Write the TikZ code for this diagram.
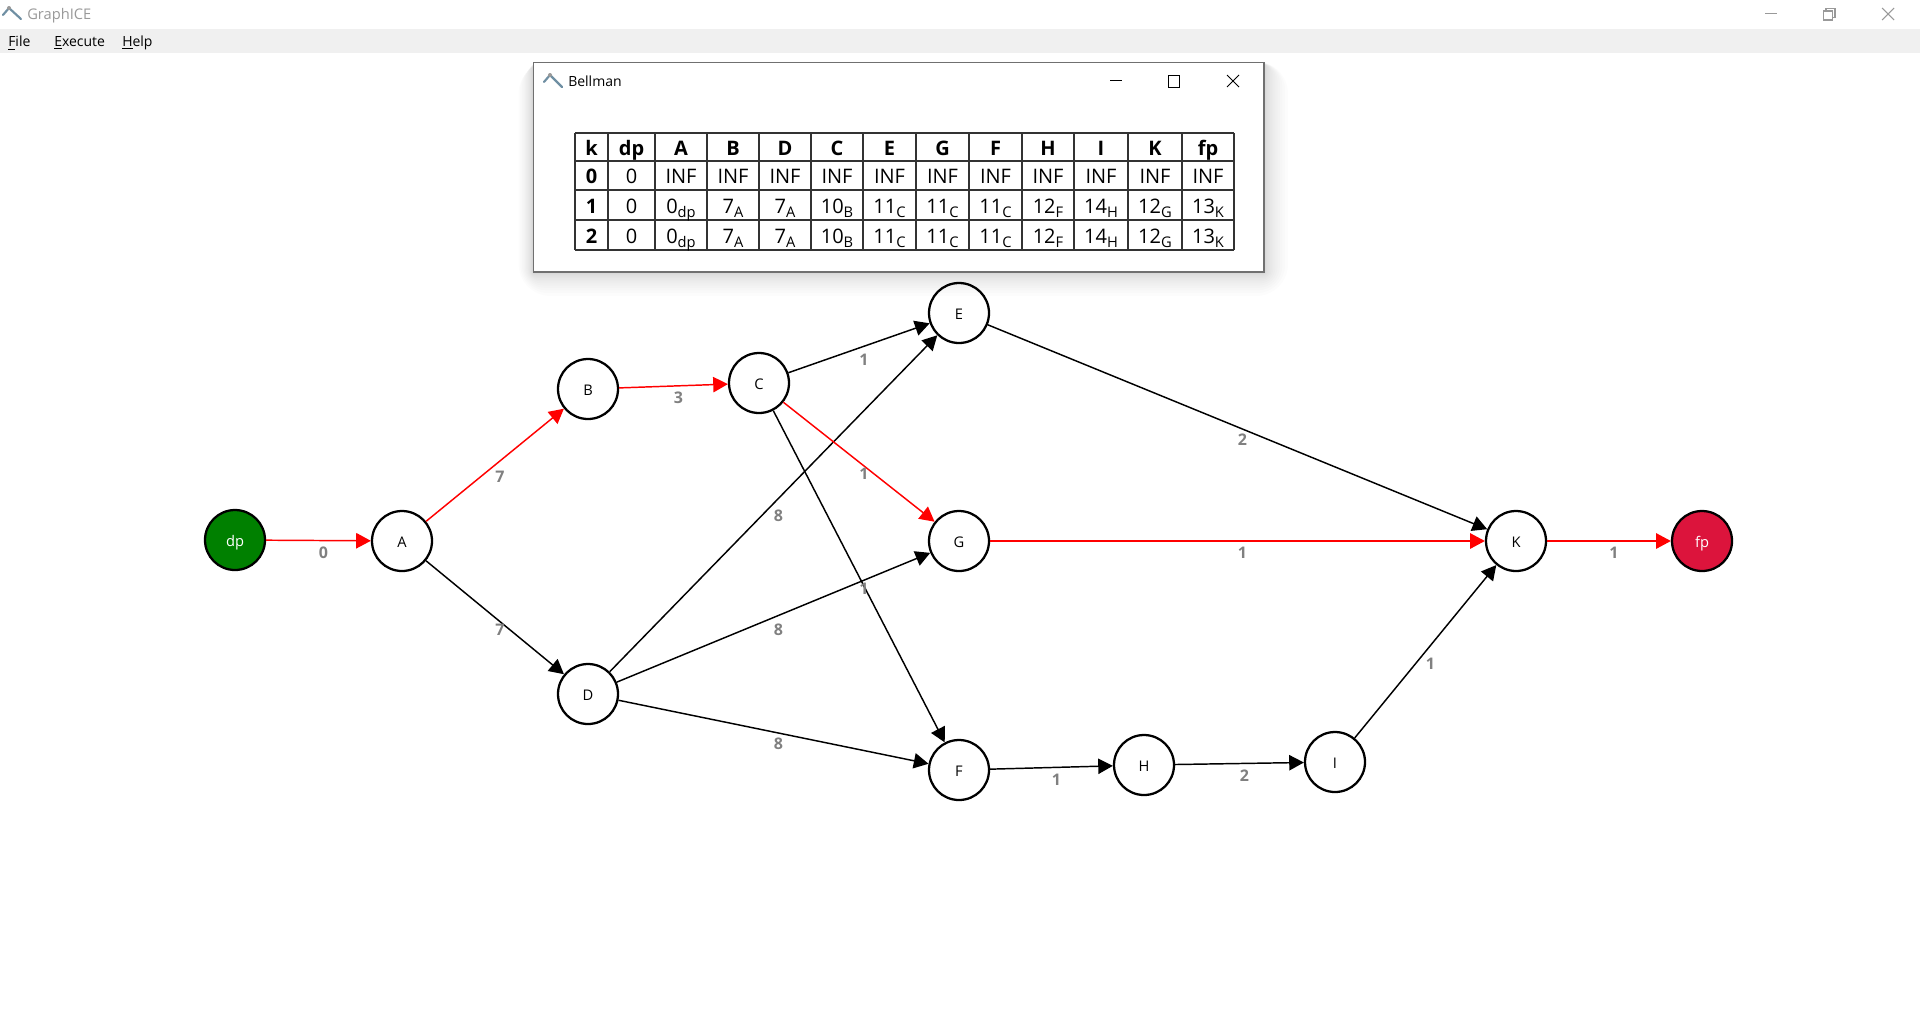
\documentclass[tikz,border=0pt]{standalone}
\usepackage{fontspec}
\setmainfont{Open Sans}
\usepackage{xcolor}
\usetikzlibrary{arrows.meta}
\definecolor{menubg}{HTML}{F0F0F0}
\definecolor{titlegray}{HTML}{999999}
\definecolor{winline}{HTML}{707070}
\definecolor{cellline}{HTML}{333333}
\definecolor{iconblue}{HTML}{6F8FA3}
\definecolor{weight}{HTML}{808080}
\definecolor{startgreen}{HTML}{008000}
\definecolor{endred}{HTML}{DC143C}
\newcommand{\low}[1]{\raisebox{-0.45ex}{\fontsize{11}{11}\selectfont #1}}
\tikzset{
  vertex/.style={circle, draw=black, fill=white, line width=1.7pt, minimum size=45pt, inner sep=0pt, text height=9pt, text depth=0pt, font=\fontsize{11}{13}\selectfont},
  edge/.style={draw=black, line width=1.1pt, -{Triangle[length=11pt,width=11.5pt]}},
  path/.style={edge, draw=red, -{Triangle[length=11pt,width=11.5pt,fill=red]}},
  wlab/.style={midway, xshift=3.75pt, yshift=-9.2pt, text=weight, inner sep=0pt, font=\fontsize{12}{14}\selectfont\bfseries},
  menu/.style={anchor=west, inner sep=0pt, font=\fontsize{10.5}{13}\selectfont},
  ctrl/.style={draw=titlegray, line width=0.8pt},
  wctrl/.style={draw=black, line width=0.75pt},
  icon/.style={draw=iconblue, line width=1.6pt, line cap=round},
  apex/.style={fill=titlegray},
  cell/.style={anchor=base, inner sep=0pt, font=\fontsize{15}{18}\selectfont},
  hcell/.style={cell, font=\fontsize{15}{18}\selectfont\bfseries},
  grid/.style={draw=cellline, line width=1.2pt},
}
\begin{document}
\begin{tikzpicture}[x=0.75pt,y=-0.75pt]
  \useasboundingbox (0,0) rectangle (1920,1029);
  \fill[white] (0,0) rectangle (1920,1029);

  % main window bar
  \fill[menubg] (0,29) rectangle (1920,53);
  \draw[icon] (3,15)--(9,8)--(21,19);
  \fill[apex] (9,8) circle (1.5pt);
  \node[anchor=west,inner sep=0pt,text=titlegray,font=\fontsize{11}{13}\selectfont] (title) at (27,15.5) {GraphICE};
  \node[menu] (mfile) at (8,43) {\underline{F}ile};
  \node[menu] (mexec) at (54,43) {\underline{E}xecute};
  \node[menu] (mhelp) at (122,43) {\underline{H}elp};
  \draw[ctrl] (1765,13.5)--(1777,13.5);
  \draw[ctrl] (1823.5,11)rectangle(1832.5,20) (1826,11)--(1826,8.5)--(1835,8.5)--(1835,17.5)--(1832.5,17.5);
  \draw[ctrl] (1882,8)--(1894,20) (1882,20)--(1894,8);

  % graph
  \node[vertex,fill=startgreen,text=white] (dp) at (235,540) {dp};
  \node[vertex] (A) at (402,541) {A};
  \node[vertex] (B) at (588,389) {B};
  \node[vertex] (D) at (588,694) {D};
  \node[vertex] (C) at (759,383) {C};
  \node[vertex] (E) at (959,313) {E};
  \node[vertex] (G) at (959,541) {G};
  \node[vertex] (F) at (959,770) {F};
  \node[vertex] (H) at (1144,765) {H};
  \node[vertex] (I) at (1335,762) {I};
  \node[vertex] (K) at (1516,541) {K};
  \node[vertex,fill=endred,text=white] (fp) at (1702,541) {fp};

  \draw[edge] (A)--(D) node[wlab] (w2) {7};
  \draw[edge] (C)--(E) node[wlab] (w4) {1};
  \draw[edge] (C)--(F) node[wlab] (w5) {1};
  \draw[edge] (D)--(E) node[wlab] (w6) {8};
  \draw[edge] (D)--(G) node[wlab] (w7) {8};
  \draw[edge] (D)--(F) node[wlab] (w8) {8};
  \draw[edge] (E)--(K) node[wlab] (w9) {2};
  \draw[edge] (F)--(H) node[wlab] (w10) {1};
  \draw[edge] (H)--(I) node[wlab] (w11) {2};
  \draw[edge] (I)--(K) node[wlab] (w12) {1};
  \draw[path] (dp)--(A) node[wlab] (w0) {0};
  \draw[path] (A)--(B) node[wlab] (w1) {7};
  \draw[path] (B)--(C) node[wlab] (w3) {3};
  \draw[path] (C)--(G) node[wlab] (w13) {1};
  \draw[path] (G)--(K) node[wlab] (w14) {1};
  \draw[path] (K)--(fp) node[wlab] (w15) {1};

  % Bellman window
  \foreach \i in {1,...,16}{
    \pgfmathsetmacro{\s}{24*(\i/16)^2}
    \fill[black,opacity=0.01,rounded corners=\s] ({533-0.6*\s},{64-0.1*\s}) rectangle ({1264+\s},{272+\s});
  }
  \draw[winline,fill=white,line width=0.9pt] (533.5,62.5) rectangle (1264,272);
  \draw[icon] (544,82)--(550,75)--(562,87);
  \fill[apex] (550,75) circle (1.5pt);
  \node[menu] (btitle) at (568,81.5) {Bellman};
  \draw[wctrl] (1110,80.5)--(1122,80.5);
  \draw[wctrl] (1168,75.5) rectangle (1179.5,87);
  \draw[wctrl] (1227,75)--(1239,87) (1227,87)--(1239,75);

  % table
  \foreach \lx in {575,608,655,707,759,811,863,916,969,1022,1074,1128,1182,1234}
    \draw[grid] (\lx,133)--(\lx,250);
  \foreach \ly in {133,161,190,220,250}
    \draw[grid] (575,\ly)--(1234,\ly);
  \node[hcell] (hk) at (591.5,155.5) {k};
  \node[hcell] (k0) at (591.5,183) {0};
  \node[hcell] (k1) at (591.5,213) {1};
  \node[hcell] (k2) at (591.5,243) {2};
  \foreach \cx/\col/\rz/\rv in {
    631.5/dp/0/0, 681/A/INF/0\low{dp}, 733/B/INF/7\low{A}, 785/D/INF/7\low{A},
    837/C/INF/10\low{B}, 889.5/E/INF/11\low{C}, 942.5/G/INF/11\low{C},
    995.5/F/INF/11\low{C}, 1048/H/INF/12\low{F}, 1101/I/INF/14\low{H},
    1155/K/INF/12\low{G}, 1208/fp/INF/13\low{K}}{
    \node[hcell] (h\col) at (\cx,155.5) {\col};
    \node[cell] (a\col) at (\cx,183) {\rz};
    \node[cell] (b\col) at (\cx,213) {\rv};
    \node[cell] (c\col) at (\cx,243) {\rv};
  }
\end{tikzpicture}
\end{document}
